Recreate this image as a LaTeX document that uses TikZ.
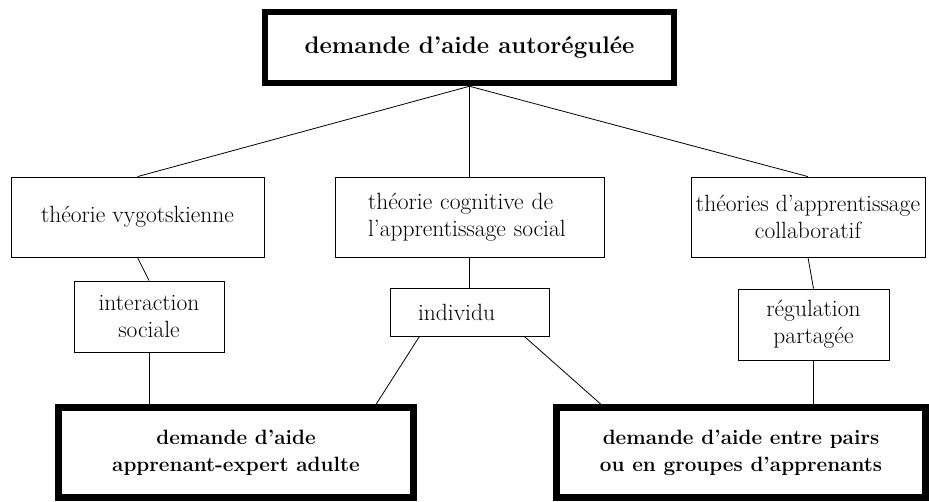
\documentclass[tikz,border=0pt]{standalone}
\usepackage{fontspec}
\begin{document}
\begin{tikzpicture}[x=1pt, y=-1pt, line width=0.8pt,
  box/.style={draw, inner sep=0pt, align=center, font=\fontsize{23.5}{27}\selectfont},
  mainbox/.style={draw, line width=6.5pt, inner sep=0pt, align=center, font=\bfseries\fontsize{20.7}{27}\selectfont}]
\useasboundingbox (0,0) rectangle (929,501);
\node[mainbox, minimum width=409pt, minimum height=71pt, font=\bfseries\fontsize{24}{28}\selectfont]
  (autoreg) at (469.5,47.5) {demande d’aide autorégulée};

\node[box, minimum width=253pt, minimum height=80pt] (vyg) at (137.5,217) {théorie vygotskienne};
\node[box, minimum height=80pt, text width=203pt, inner xsep=33pt, align=left]
  (cog) at (469.5,217) {théorie cognitive de\\l’apprentissage social};
\node[box, minimum width=234pt, minimum height=80pt] (collab) at (808,217) {théories d’apprentissage\\collaboratif};

\node[box, minimum width=150pt, minimum height=71pt] (inter) at (149,316.5) {interaction\\sociale};
\node[box, minimum height=48pt, text width=103pt, inner xsep=28pt, align=left] (indiv) at (469.5,312) {individu};
\node[box, minimum width=151pt, minimum height=71pt] (regul) at (813.5,324.5) {régulation\\partagée};

\node[mainbox, minimum width=355pt, minimum height=90pt] (expert) at (236,452.5) {demande d’aide\\apprenant-expert adulte};
\node[mainbox, minimum width=369pt, minimum height=90pt] (pairs) at (741,452.5) {demande d’aide entre pairs\\ou en groupes d’apprenants};

% top level
\draw (autoreg.south) -- (vyg.north);
\draw (autoreg.south) -- (cog.north);
\draw (autoreg.south) -- (collab.north);
% left branch
\draw (vyg.south) -- (inter.north);
\draw (inter.south) -- (inter.south |- expert.north);
% middle branch
\draw (cog.south) -- (indiv.north);
\draw (indiv.206.8) -- (expert.19.9);
\draw (indiv.336.6) -- (pairs.161.9);
% right branch
\draw (collab.south) -- (regul.north);
\draw (regul.south) -- (regul.south |- pairs.north);
\end{tikzpicture}
\end{document}
